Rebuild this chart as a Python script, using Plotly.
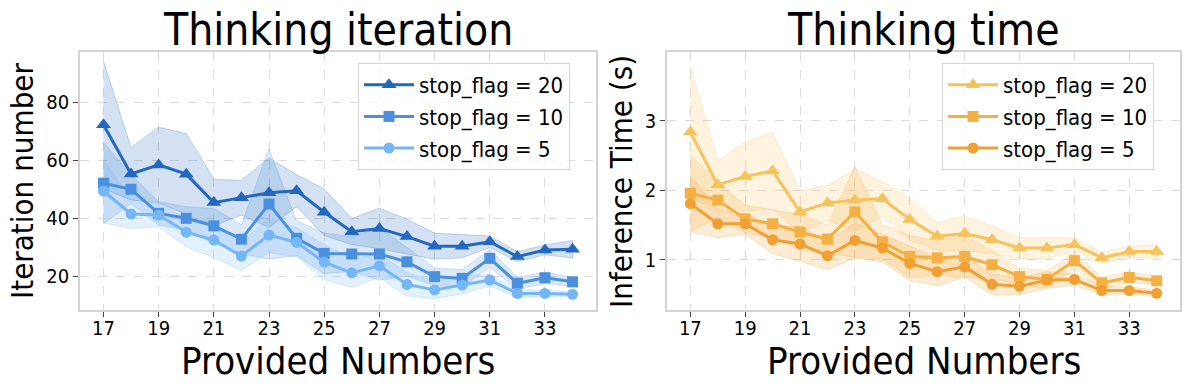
import plotly.graph_objects as go

# provided numbers (x axis)
provided = list(range(17, 35))

# thinking iteration (left panel), mean and spread per stop_flag
iter_20 = [72.2, 55.3, 58.4, 55.2, 45.4, 47.1, 48.8, 49.5, 42.1, 35.4, 36.5, 33.7, 30.4, 30.4, 31.9, 26.8, 29.1, 29.3]
iter_10 = [52.1, 50.0, 41.7, 40.0, 37.4, 32.8, 44.9, 33.1, 27.9, 27.7, 27.7, 25.0, 19.9, 19.3, 26.2, 17.6, 19.5, 18.1]
iter_5 = [49.4, 41.5, 41.1, 35.2, 32.5, 27.0, 34.2, 31.7, 24.9, 21.2, 23.6, 17.2, 15.3, 17.0, 18.7, 14.1, 14.1, 13.8]
iter_20_sd = [22, 9, 13, 14, 8, 6, 12, 5.5, 8, 4.5, 7, 6, 4.5, 4, 2, 1.7, 1.7, 3]
iter_10_sd = [14, 5, 4, 4, 6, 5, 19, 6, 7, 6, 9, 5, 3, 3, 3, 2, 2, 1.5]
iter_5_sd = [11, 5, 4, 5, 6, 5, 6, 5, 6, 5, 4, 4, 3, 3, 2, 1.5, 1, 1]

# thinking time (right panel), seconds
time_20 = [2.84, 2.08, 2.20, 2.28, 1.69, 1.82, 1.86, 1.88, 1.58, 1.34, 1.38, 1.29, 1.17, 1.17, 1.22, 1.03, 1.12, 1.12]
time_10 = [1.96, 1.86, 1.59, 1.52, 1.40, 1.30, 1.69, 1.26, 1.05, 1.03, 1.05, 0.93, 0.76, 0.72, 0.99, 0.67, 0.75, 0.70]
time_5 = [1.81, 1.52, 1.52, 1.29, 1.23, 1.06, 1.28, 1.17, 0.95, 0.83, 0.90, 0.65, 0.62, 0.71, 0.72, 0.56, 0.56, 0.52]
time_20_sd = [0.95, 0.35, 0.5, 0.55, 0.3, 0.25, 0.45, 0.25, 0.3, 0.2, 0.25, 0.2, 0.15, 0.15, 0.1, 0.08, 0.08, 0.1]
time_10_sd = [0.55, 0.25, 0.2, 0.2, 0.25, 0.2, 0.65, 0.25, 0.3, 0.25, 0.3, 0.2, 0.12, 0.12, 0.12, 0.08, 0.08, 0.06]
time_5_sd = [0.4, 0.2, 0.15, 0.2, 0.25, 0.2, 0.25, 0.2, 0.25, 0.2, 0.15, 0.15, 0.12, 0.12, 0.08, 0.06, 0.05, 0.05]

labels = ["stop_flag = 20", "stop_flag = 10", "stop_flag = 5"]
symbols = ["triangle-up", "square", "circle"]
blues = [(34, 104, 190), (74, 144, 222), (116, 182, 246)]
oranges = [(246, 194, 92), (244, 176, 66), (240, 160, 50)]

W, H = 1189, 390
FONT = "DejaVu Sans Condensed, DejaVu Sans"


def px(x):
    return x / W


def py(y):
    return 1 - y / H


def rgba(c, a):
    return "rgba(%d,%d,%d,%s)" % (c[0], c[1], c[2], a)


fig = go.Figure()


def add_panel(means, sds, colors, xa, ya, legend):
    for i, (m, s) in enumerate(zip(means, sds)):
        upper = [a + b for a, b in zip(m, s)]
        lower = [a - b for a, b in zip(m, s)]
        fig.add_trace(go.Scatter(
            x=provided + provided[::-1], y=upper + lower[::-1],
            fill="toself", fillcolor=rgba(colors[i], 0.2),
            line=dict(color=rgba(colors[i], 0.25), width=1),
            mode="lines", showlegend=False, hoverinfo="skip",
            xaxis=xa, yaxis=ya))
    for i, m in enumerate(means):
        fig.add_trace(go.Scatter(
            x=provided, y=m, mode="lines+markers", name=labels[i],
            line=dict(color=rgba(colors[i], 1), width=3),
            marker=dict(symbol=symbols[i], size=13 if i == 0 else 11, color=rgba(colors[i], 1)),
            legend=legend, legendgroup=legend + str(i),
            xaxis=xa, yaxis=ya))


add_panel([iter_20, iter_10, iter_5], [iter_20_sd, iter_10_sd, iter_5_sd], blues, "x", "y", "legend")
add_panel([time_20, time_10, time_5], [time_20_sd, time_10_sd, time_5_sd], oranges, "x2", "y2", "legend2")

ytop = py(52)
ybot = py(310)
dom1 = [px(80), px(596)]
dom2 = [px(667), px(1180)]

axis_common = dict(
    showline=True, mirror=True, linecolor="#d4d4d4", linewidth=1.5,
    ticks="outside", ticklen=5, tickcolor="#444444", tickwidth=1,
    showgrid=True, gridcolor="#dcdcdc", griddash="dash", gridwidth=1,
    zeroline=False, tickfont=dict(family=FONT, size=20, color="black"),
)
xticks = list(range(17, 35, 2))

legend_common = dict(xanchor="left", yanchor="top",
                     bordercolor="#d4d4d4", borderwidth=1, bgcolor="rgba(255,255,255,0.8)",
                     font=dict(family=FONT, size=22), tracegroupgap=0, itemwidth=50)

fig.update_layout(
    width=W, height=H, margin=dict(l=0, r=0, t=0, b=0),
    paper_bgcolor="white", plot_bgcolor="white",
    font=dict(family=FONT, color="black"),
    xaxis=dict(domain=dom1, range=[16.15, 34.85], tickvals=xticks, anchor="y",
               ticklabelstandoff=-6, **axis_common),
    yaxis=dict(domain=[ybot, ytop], range=[8.4, 97.3], tickvals=[20, 40, 60, 80], anchor="x", **axis_common),
    xaxis2=dict(domain=dom2, range=[16.15, 34.85], tickvals=xticks, anchor="y2",
                ticklabelstandoff=-6, **axis_common),
    yaxis2=dict(domain=[ybot, ytop], range=[0.28, 3.99], tickvals=[1, 2, 3], anchor="x2", **axis_common),
    legend=dict(x=px(358), y=py(63), **legend_common),
    legend2=dict(x=px(942), y=py(63), **legend_common),
)

# titles and axis labels
ann = [
    dict(text="Thinking iteration", x=sum(dom1) / 2, y=py(30), size=44, angle=0),
    dict(text="Thinking time", x=sum(dom2) / 2, y=py(30), size=44, angle=0),
    dict(text="Provided Numbers", x=sum(dom1) / 2, y=py(361), size=38, angle=0),
    dict(text="Provided Numbers", x=sum(dom2) / 2, y=py(361), size=38, angle=0),
    dict(text="Iteration number", x=px(22), y=(ytop + ybot) / 2, size=31, angle=-90),
    dict(text="Inference Time (s)", x=px(621), y=(ytop + ybot) / 2, size=31, angle=-90),
]
for a in ann:
    fig.add_annotation(text=a["text"], x=a["x"], y=a["y"], xref="paper", yref="paper",
                       xanchor="center", yanchor="middle", showarrow=False,
                       textangle=a["angle"], font=dict(family=FONT, size=a["size"], color="black"))

# drop the default page margin so the figure sits at the window's top left
fig.write_html("out.html", config={"displayModeBar": False},
               post_script="document.body.style.margin = '0';")
